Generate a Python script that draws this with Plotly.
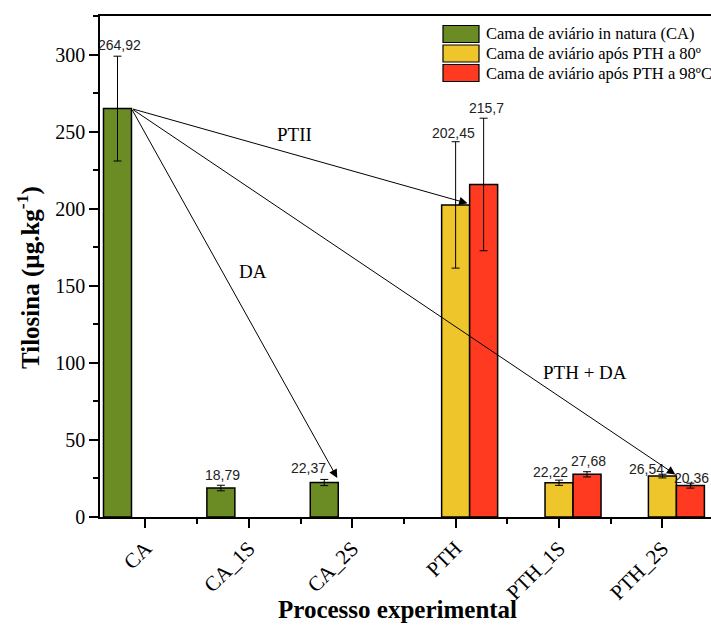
import plotly.graph_objects as go

# ---- data ----
categories = ["CA", "CA_1S", "CA_2S", "PTH", "PTH_1S", "PTH_2S"]
series_names = ["Cama de aviário in natura (CA)",
                "Cama de aviário após PTH a 80º",
                "Cama de aviário após PTH a 98ºC"]
ca_values = [264.92, 18.79, 22.37, None, None, None]
ca_sd = [34.0, 1.8, 2.0, None, None, None]
pth80_values = [None, None, None, 202.45, 22.22, 26.54]
pth80_sd = [None, None, None, 41.0, 1.7, 1.2]
pth98_values = [None, None, None, 215.7, 27.68, 20.36]
pth98_sd = [None, None, None, 43.0, 1.7, 1.6]
value_labels = {
    0: ["264,92", "18,79", "22,37", None, None, None],
    1: [None, None, None, "202,45", "22,22", "26,54"],
    2: [None, None, None, "215,7", "27,68", "20,36"],
}
y_ticks = [0, 50, 100, 150, 200, 250, 300]

colors = ["#6B8C25", "#EEC62C", "#FF3A20"]
xpos = list(range(len(categories)))

SERIF = "Liberation Serif, Times New Roman, serif"
BARGAP = 0.1875
slot = (1 - BARGAP) / 3.0

# plot-area geometry in pixels (for paper-coordinate helpers)
W, H = 711, 628
ML, MR, MT, MB = 100, 0, 16, 111
PW, PH = W - ML - MR, H - MT - MB


def px(xp):
    return (xp - ML) / PW


def py(yp):
    return (H - MB - yp) / PH


fig = go.Figure()
for k, (vals, sds) in enumerate([(ca_values, ca_sd), (pth80_values, pth80_sd), (pth98_values, pth98_sd)]):
    fig.add_trace(go.Bar(
        x=xpos, y=vals, name=series_names[k], showlegend=False,
        marker=dict(color=colors[k], line=dict(color="black", width=1.5)),
        error_y=dict(type="data", array=sds, color="black", thickness=1, width=4, visible=True),
    ))

# value labels (manual nudges like the original figure)
shifts = {
    (0, 0): (2, 11), (0, 1): (2, 10), (0, 2): (-16, 11),
    (1, 3): (-2, 9), (1, 4): (-9, 8), (1, 5): (-16, 5),
    (2, 3): (3, 10), (2, 4): (1, 11), (2, 5): (1, 5),
}
all_vals = [ca_values, pth80_values, pth98_values]
all_sd = [ca_sd, pth80_sd, pth98_sd]
for k in range(3):
    for i, lab in enumerate(value_labels[k]):
        if lab is None:
            continue
        xs, ys = shifts[(k, i)]
        fig.add_annotation(
            x=i + (k - 1) * slot, y=all_vals[k][i] + all_sd[k][i],
            text=lab, showarrow=False, xshift=xs, yshift=ys,
            yanchor="middle", xanchor="center",
            font=dict(family="Liberation Sans, Arial", size=14, color="#222"),
        )

# arrows from top-right corner of CA bar
tail_x = 0 - slot + slot / 2
tail_y = ca_values[0]
arrow_targets = [
    (3 + slot / 2 - 0.02, pth80_values[3] + 1),
    (2 - slot + slot / 2 - 0.01, ca_values[2] + 3),
    (5 + slot / 2 - 0.01, pth80_values[5] + 1),
]
for tx, ty in arrow_targets:
    fig.add_annotation(
        x=tx, y=ty, ax=tail_x, ay=tail_y, xref="x", yref="y", axref="x", ayref="y",
        text="", showarrow=True, arrowhead=2, arrowsize=1.7, arrowwidth=1,
        arrowcolor="black", standoff=0, startstandoff=0,
    )

for txt, x, y in [("PTII", 1.446, 248), ("DA", 1.04, 159), ("PTH + DA", 4.25, 94)]:
    fig.add_annotation(x=x, y=y, text=txt, showarrow=False,
                       font=dict(family=SERIF, size=19, color="black"))

# legend drawn as swatches + labels
legend_rows_y = [34, 53.5, 73]
for k, name in enumerate(series_names):
    yc = legend_rows_y[k]
    fig.add_shape(type="rect", xref="paper", yref="paper",
                  x0=px(443), x1=px(479), y0=py(yc - 8.5), y1=py(yc + 8.5),
                  fillcolor=colors[k], line=dict(color="black", width=1.2))
    fig.add_annotation(xref="paper", yref="paper", x=px(484), y=py(yc), text=name,
                       showarrow=False, xanchor="left", yanchor="middle",
                       font=dict(family=SERIF, size=16.5, color="black"))

# axis titles
fig.add_annotation(xref="paper", yref="paper", x=px(28), y=py(278),
                   text="<b>Tilosina (µg.kg<sup>-1</sup>)</b>", textangle=-90, showarrow=False,
                   font=dict(family=SERIF, size=25, color="black"),
                   xanchor="center", yanchor="middle")
fig.add_annotation(xref="paper", yref="paper", x=px(397), y=py(609),
                   text="<b>Processo experimental</b>", showarrow=False,
                   font=dict(family=SERIF, size=25, color="black"),
                   xanchor="center", yanchor="middle")

# short extension of the x-axis line to the left of the y axis
fig.add_shape(type="line", xref="paper", yref="paper", x0=px(90), x1=0, y0=0, y1=0,
              line=dict(color="black", width=1.5))

fig.update_layout(
    width=W, height=H,
    margin=dict(l=ML, r=MR, t=MT, b=MB),
    barmode="group", bargap=BARGAP, bargroupgap=0,
    plot_bgcolor="white", paper_bgcolor="white",
    font=dict(family=SERIF, color="black"),
    showlegend=False,
    xaxis=dict(range=[-0.44, 5.47], tickmode="array", tickvals=xpos, ticktext=categories,
               tickangle=-45, ticks="outside", ticklen=9, tickwidth=1.5, tickcolor="black",
               showline=True, linecolor="black", linewidth=1.5, mirror=True,
               showgrid=False, zeroline=False,
               tickfont=dict(family=SERIF, size=21, color="black"),
               minor=dict(tick0=0.5, dtick=1, ticks="outside", ticklen=5, tickwidth=1.5, tickcolor="black")),
    yaxis=dict(range=[0, 325], tickmode="array", tickvals=y_ticks,
               ticks="outside", ticklen=9, tickwidth=1.5, tickcolor="black",
               showline=True, linecolor="black", linewidth=1.5,
               showgrid=False, zeroline=False,
               tickfont=dict(family=SERIF, size=20, color="black"),
               minor=dict(tick0=0, dtick=25, ticks="outside", ticklen=5, tickwidth=1.5, tickcolor="black")),
)

fig.write_html("out.html")
